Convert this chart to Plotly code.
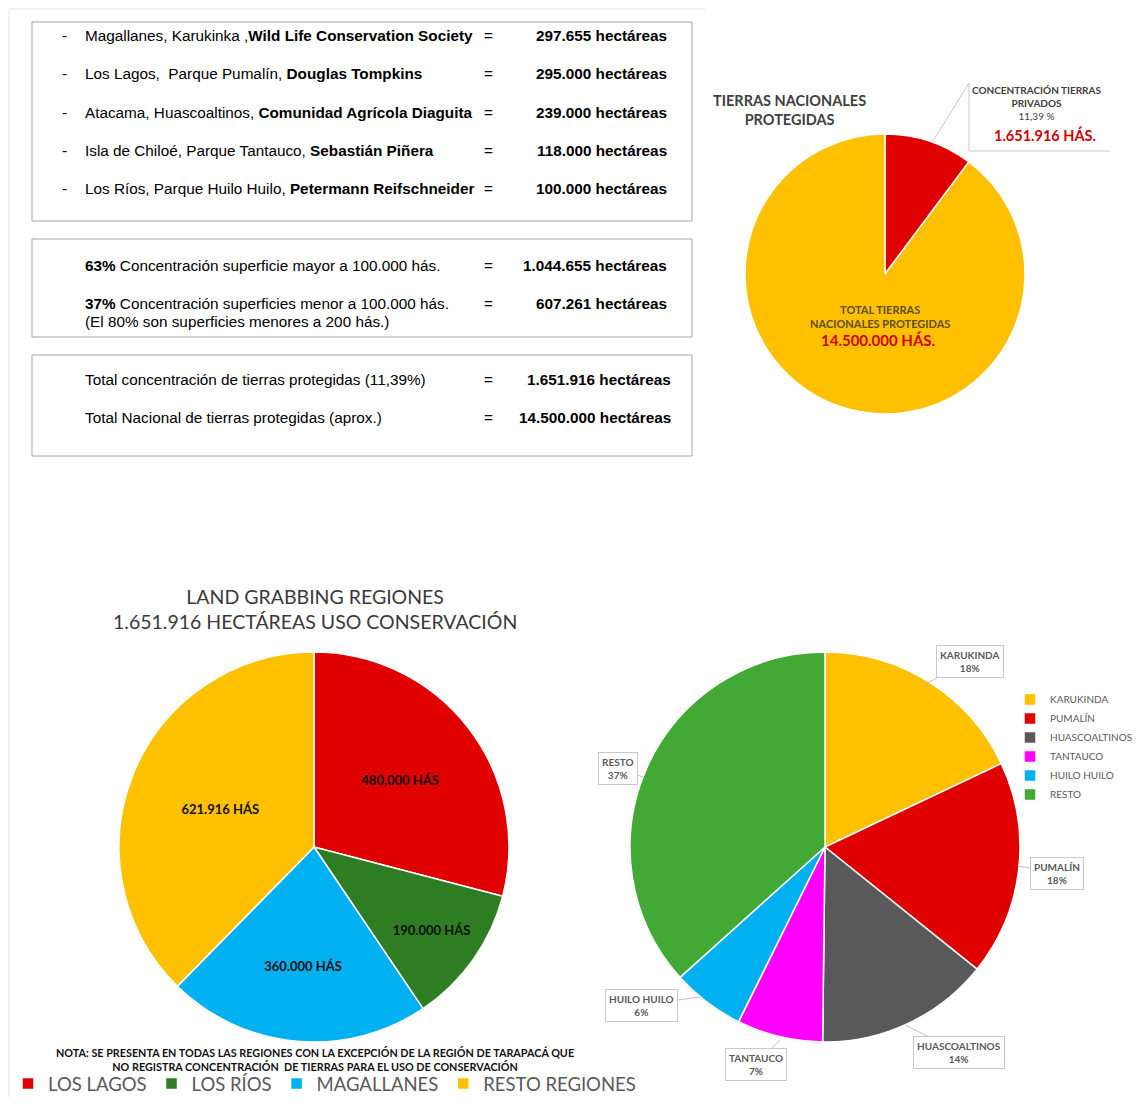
import plotly.graph_objects as go

# the page adds an 8px body margin, so the figure is 16px smaller than the window
OFF = 8
W, H = 1146 - 2 * OFF, 1105 - 2 * OFF

# --- data -------------------------------------------------------------
lugares = ["Magallanes, Karukinka ,", "Los Lagos,  Parque Pumalín, ", "Atacama, Huascoaltinos, ",
           "Isla de Chiloé, Parque Tantauco, ", "Los Ríos, Parque Huilo Huilo, "]
propietarios = ["Wild Life Conservation Society", "Douglas Tompkins", "Comunidad Agrícola Diaguita",
                "Sebastián Piñera", "Petermann Reifschneider"]
hectareas = [297655, 295000, 239000, 118000, 100000]

concentracion_pct = ["63%", "37%"]
concentracion_txt = ["Concentración superficie mayor a 100.000 hás.",
                     "Concentración superficies menor a 100.000 hás."]
concentracion_ha = [1044655, 607261]

totales_txt = ["Total concentración de tierras protegidas (11,39%)",
               "Total Nacional de tierras protegidas (aprox.)"]
totales_ha = [1651916, 14500000]

nac_labels = ["CONCENTRACIÓN TIERRAS PRIVADOS", "TOTAL TIERRAS NACIONALES PROTEGIDAS"]
nac_values = [1651916, 14500000]

reg_labels = ["LOS LAGOS", "LOS RÍOS", "MAGALLANES", "RESTO REGIONES"]
reg_values = [480000, 190000, 360000, 621916]
reg_colors = ["#E00000", "#2E7D22", "#00B0F0", "#FFC000"]

par_labels = ["KARUKINDA", "PUMALÍN", "HUASCOALTINOS", "TANTAUCO", "HUILO HUILO", "RESTO"]
par_values = [297655, 295000, 239000, 118000, 100000, 607261]
par_colors = ["#FFC000", "#E00000", "#595959", "#FF00FF", "#00B0F0", "#43A935"]

ARIAL = "Liberation Sans, Arial, sans-serif"
CAL = "Lato, Open Sans, sans-serif"


def fmt(v):
    return f"{v:,}".replace(",", ".")


def X(px):
    return (px - OFF) / W


def Y(py):
    return 1 - (py - OFF) / H


def dom(cx, cy, r):
    return dict(x=[X(cx - r), X(cx + r)], y=[Y(cy + r), Y(cy - r)])


def ann(px, py, text, size, color="#000000", xanchor="left", family=ARIAL):
    return dict(x=X(px), y=Y(py), xref="paper", yref="paper", text=text, showarrow=False,
                xanchor=xanchor, yanchor="middle", font=dict(family=family, size=size, color=color))


fig = go.Figure()

# top-right pie
fig.add_trace(go.Pie(labels=nac_labels, values=nac_values, sort=False, direction="clockwise",
                     rotation=0, marker=dict(colors=["#E00000", "#FFC000"], line=dict(color="white", width=1.5)),
                     textinfo="none", showlegend=False, domain=dom(885, 274, 140)))

# bottom-left pie (regions)
fig.add_trace(go.Pie(labels=reg_labels, values=reg_values, sort=False, direction="clockwise",
                     rotation=0, marker=dict(colors=reg_colors, line=dict(color="white", width=1.5)),
                     text=[fmt(v) + " HÁS" for v in reg_values], textinfo="text",
                     textposition="inside", insidetextorientation="horizontal",
                     textfont=dict(family=CAL, size=13, color="#111111", weight="bold"),
                     legend="legend2", domain=dom(314, 847, 195)))

# bottom-right pie (parks)
fig.add_trace(go.Pie(labels=par_labels, values=par_values, sort=False, direction="clockwise",
                     rotation=0, marker=dict(colors=par_colors, line=dict(color="white", width=1.5)),
                     textinfo="none", legend="legend", domain=dom(825, 847, 195)))

shapes = []
annotations = []

# frame lines of the page
shapes.append(dict(type="line", xref="paper", yref="paper", x0=X(9), x1=X(9), y0=Y(9), y1=Y(1097),
                   line=dict(color="#e3e3e3", width=1)))
shapes.append(dict(type="line", xref="paper", yref="paper", x0=X(9), x1=X(705), y0=Y(9), y1=Y(9),
                   line=dict(color="#e3e3e3", width=1)))

# text boxes
for y0, y1 in [(22, 221), (239, 337), (355, 456)]:
    shapes.append(dict(type="rect", xref="paper", yref="paper", x0=X(32), x1=X(692), y0=Y(y1), y1=Y(y0),
                       line=dict(color="#a6a6a6", width=1)))

FS = 15.3
for i, (lug, prop, ha) in enumerate(zip(lugares, propietarios, hectareas)):
    py = 36 + i * 38
    annotations.append(ann(60, py, "-", FS))
    annotations.append(ann(83, py, f"{lug}<b>{prop}</b>", FS))
    annotations.append(ann(489, py, "=", FS, xanchor="center"))
    annotations.append(ann(669, py, f"<b>{fmt(ha)} hectáreas</b>", FS, xanchor="right"))

for i, (pct, txt, ha) in enumerate(zip(concentracion_pct, concentracion_txt, concentracion_ha)):
    py = 265 + i * 38
    annotations.append(ann(83, py, f"<b>{pct}</b> {txt}", FS))
    annotations.append(ann(489, py, "=", FS, xanchor="center"))
    annotations.append(ann(669, py, f"<b>{fmt(ha)} hectáreas</b>", FS, xanchor="right"))
annotations.append(ann(83, 321, "(El 80% son superficies menores a 200 hás.)", FS))

for i, (txt, ha) in enumerate(zip(totales_txt, totales_ha)):
    py = 379 + i * 38
    annotations.append(ann(83, py, txt, FS))
    annotations.append(ann(489, py, "=", FS, xanchor="center"))
    annotations.append(ann(673, py, f"<b>{fmt(ha)} hectáreas</b>", FS, xanchor="right"))

# top-right pie texts
annotations.append(ann(789, 110, "<b>TIERRAS NACIONALES<br>PROTEGIDAS</b>", 14.5, "#404040", "center", CAL))
pct_priv = nac_values[0] / nac_values[1] * 100
annotations.append(ann(1036, 103, f"<b>CONCENTRACIÓN TIERRAS<br>PRIVADOS</b><br>{pct_priv:.2f} %".replace(".", ","),
                       10, "#404040", "center", CAL))
annotations.append(ann(1045, 135, f"<b>{fmt(nac_values[0])} HÁS.</b>", 14.5, "#D00000", "center", CAL))
annotations.append(ann(880, 316, "<b>TOTAL TIERRAS<br>NACIONALES PROTEGIDAS</b>", 11, "#5c4f1c", "center", CAL))
annotations.append(ann(878, 340, f"<b>{fmt(nac_values[1])} HÁS.</b>", 15, "#D00000", "center", CAL))
for x0, y0, x1, y1 in [(933, 141, 969, 83), (969, 83, 969, 151), (969, 151, 1110, 151)]:
    shapes.append(dict(type="line", xref="paper", yref="paper", x0=X(x0), x1=X(x1), y0=Y(y0), y1=Y(y1),
                       line=dict(color="#c8c8c8", width=1)))

# bottom-left titles and note
annotations.append(ann(315, 609, "LAND GRABBING REGIONES<br>1.651.916 HECTÁREAS USO CONSERVACIÓN",
                       19.5, "#3a3a3a", "center", CAL))
annotations.append(ann(315, 1059, "<b>NOTA: SE PRESENTA EN TODAS LAS REGIONES CON LA EXCEPCIÓN DE LA REGIÓN DE TARAPACÁ QUE<br>"
                       "NO REGISTRA CONCENTRACIÓN  DE TIERRAS PARA EL USO DE CONSERVACIÓN</b>",
                       10.8, "#111111", "center", CAL))

# bottom-right callouts
total_par = sum(par_values)
points = [(925, 684), (1018, 866), (905, 1025), (780, 1040), (700, 997), (643, 777)]
offsets = [(45, -23), (39, 7), (54, 27), (-24, 24), (-59, 8), (-25, -9)]
for lab, val, (px, py), (ax, ay) in zip(par_labels, par_values, points, offsets):
    annotations.append(dict(x=X(px), y=Y(py), xref="paper", yref="paper",
                            text=f"<b>{lab}<br>{round(val / total_par * 100)}%</b>",
                            showarrow=True, arrowhead=0, arrowwidth=1, arrowcolor="#bfbfbf",
                            ax=ax, ay=ay, standoff=0, align="center",
                            bgcolor="white", bordercolor="#c8c8c8", borderwidth=1, borderpad=3,
                            font=dict(family=CAL, size=10, color="#595959")))

fig.update_layout(
    width=W, height=H, margin=dict(l=0, r=0, t=0, b=0, autoexpand=False),
    paper_bgcolor="white", plot_bgcolor="white",
    shapes=shapes, annotations=annotations,
    legend=dict(x=X(1010), y=Y(685), xanchor="left", yanchor="top", orientation="v",
                font=dict(family=CAL, size=10, color="#595959"), bgcolor="rgba(0,0,0,0)"),
    legend2=dict(x=0, y=Y(1084), xanchor="left", yanchor="middle", orientation="h",
                 font=dict(family=CAL, size=18.5, color="#595959"), bgcolor="rgba(0,0,0,0)"),
)

fig.write_html("out.html")
